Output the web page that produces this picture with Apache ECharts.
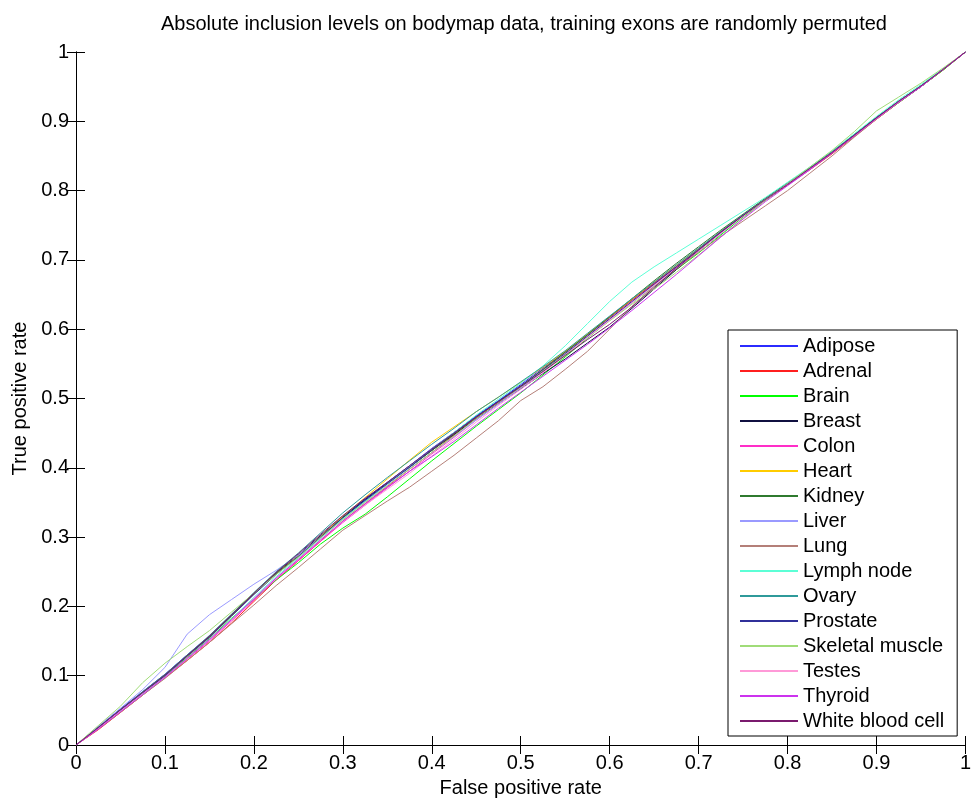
<!DOCTYPE html>
<html><head><meta charset="utf-8">
<script src="https://cdn.jsdelivr.net/npm/echarts@6/dist/echarts.min.js"></script>
<style>html,body{margin:0;padding:0;background:#fff}#c{width:974px;height:803px}</style>
</head><body><div id="c"></div>
<script>
const fpr = [0,0.025,0.05,0.075,0.1,0.125,0.15,0.175,0.2,0.225,0.25,0.275,0.3,0.325,0.35,0.375,0.4,0.425,0.45,0.475,0.5,0.525,0.55,0.575,0.6,0.625,0.65,0.675,0.7,0.725,0.75,0.775,0.8,0.825,0.85,0.875,0.9,0.925,0.95,0.975,1];

const adipose = [0,.026,.052,.077,.102,.13,.157,.188,.219,.248,.274,.302,.33,.355,.379,.403,.428,.451,.475,.497,.52,.544,.567,.592,.617,.642,.667,.691,.716,.741,.765,.787,.809,.832,.856,.88,.905,.929,.951,.975,1];
const adrenal = [0,.022,.047,.072,.097,.122,.148,.176,.207,.238,.266,.294,.323,.348,.373,.398,.422,.447,.472,.495,.518,.542,.567,.592,.617,.642,.666,.69,.714,.739,.763,.786,.808,.83,.853,.878,.903,.927,.95,.974,1];
const brain = [0,.024,.05,.074,.099,.126,.153,.183,.21,.238,.263,.29,.313,.333,.358,.384,.41,.435,.46,.484,.508,.534,.56,.587,.613,.638,.662,.686,.71,.736,.762,.786,.809,.831,.854,.879,.904,.927,.95,.974,1];
const breast = [0,.025,.051,.076,.101,.129,.157,.188,.219,.248,.274,.302,.329,.354,.378,.401,.425,.448,.471,.493,.514,.536,.557,.58,.603,.63,.658,.686,.713,.738,.763,.787,.809,.831,.855,.879,.904,.928,.95,.975,1];
const colon = [0,.023,.048,.073,.097,.124,.15,.179,.209,.239,.266,.294,.321,.346,.371,.395,.42,.444,.469,.492,.515,.539,.564,.589,.614,.639,.664,.689,.714,.739,.764,.787,.809,.831,.854,.879,.904,.928,.95,.975,1];
const heart = [0,.025,.05,.076,.101,.128,.156,.187,.218,.247,.273,.301,.33,.357,.384,.411,.437,.459,.481,.502,.523,.545,.568,.593,.618,.643,.668,.692,.716,.741,.765,.788,.81,.832,.856,.88,.905,.929,.951,.975,1];
const kidney = [0,.026,.051,.076,.101,.129,.156,.187,.218,.247,.272,.3,.328,.352,.377,.401,.425,.449,.473,.496,.518,.542,.567,.592,.618,.644,.67,.695,.719,.743,.766,.789,.811,.833,.856,.881,.906,.929,.951,.975,1];
const liver = [0,.027,.053,.08,.112,.16,.188,.21,.232,.252,.274,.3,.326,.351,.375,.399,.422,.445,.469,.492,.515,.539,.563,.588,.613,.638,.663,.688,.713,.738,.763,.787,.81,.832,.855,.88,.905,.929,.951,.975,1];
const lung = [0,.023,.047,.072,.096,.122,.148,.175,.202,.23,.256,.283,.31,.331,.352,.372,.395,.418,.443,.468,.497,.517,.542,.568,.6,.633,.662,.687,.711,.734,.756,.778,.8,.825,.85,.877,.903,.927,.95,.975,1];
const lymphNode = [0,.024,.049,.073,.098,.125,.152,.182,.213,.243,.27,.298,.326,.352,.377,.402,.427,.451,.476,.499,.522,.547,.576,.608,.64,.668,.69,.71,.73,.75,.77,.79,.812,.834,.857,.882,.907,.931,.953,.976,1];
const ovary = [0,.025,.051,.077,.102,.13,.158,.189,.22,.25,.277,.306,.335,.361,.386,.41,.434,.457,.481,.502,.524,.546,.569,.594,.619,.644,.668,.693,.717,.741,.765,.788,.81,.832,.856,.88,.905,.929,.951,.975,1];
const prostate = [0,.025,.05,.075,.1,.128,.155,.186,.217,.246,.272,.3,.328,.353,.377,.401,.426,.45,.474,.496,.518,.541,.565,.59,.615,.64,.665,.69,.715,.74,.764,.787,.809,.831,.855,.88,.905,.928,.95,.975,1];
const skeletalMuscle = [0,.028,.056,.09,.118,.142,.165,.192,.219,.246,.271,.299,.325,.35,.374,.398,.422,.446,.471,.494,.516,.54,.563,.588,.612,.636,.658,.682,.707,.733,.76,.786,.81,.834,.858,.885,.915,.935,.955,.977,1];
const testes = [0,.024,.049,.074,.098,.125,.152,.181,.211,.241,.268,.296,.322,.346,.369,.392,.417,.441,.466,.49,.513,.537,.562,.588,.613,.638,.663,.688,.713,.738,.763,.787,.809,.831,.855,.879,.904,.928,.95,.975,1];
const thyroid = [0,.023,.048,.073,.098,.125,.152,.181,.211,.241,.268,.296,.323,.348,.372,.395,.416,.438,.462,.486,.509,.532,.555,.578,.602,.627,.653,.679,.706,.733,.759,.784,.807,.83,.854,.879,.904,.928,.95,.975,1];
const whiteBloodCell = [0,.025,.051,.076,.101,.129,.157,.188,.219,.249,.276,.304,.331,.356,.379,.403,.427,.45,.473,.495,.517,.539,.562,.585,.607,.632,.66,.688,.714,.74,.764,.787,.809,.832,.855,.88,.905,.929,.951,.975,1];

const seriesNames = ['Adipose','Adrenal','Brain','Breast','Colon','Heart','Kidney','Liver','Lung','Lymph node','Ovary','Prostate','Skeletal muscle','Testes','Thyroid','White blood cell'];
const seriesValues = [adipose,adrenal,brain,breast,colon,heart,kidney,liver,lung,lymphNode,ovary,prostate,skeletalMuscle,testes,thyroid,whiteBloodCell];
const seriesColors = ['#2b2bff','#ff1f1f','#00ff00','#101040','#ff2ec8','#ffcc00','#2f7a2f','#9a9aff','#b47f78','#5cffd6','#2f9a9a','#30309a','#a0dc78','#ff9ad8','#cc33ee','#7a1a6e'];
const xTickLabels = ['0','0.1','0.2','0.3','0.4','0.5','0.6','0.7','0.8','0.9','1'];
const yTickLabels = ['0','0.1','0.2','0.3','0.4','0.5','0.6','0.7','0.8','0.9','1'];

const FONT = 'Liberation Sans, Arial, Helvetica, sans-serif';
const chart = echarts.init(document.getElementById('c'), null, {renderer:'canvas'});
const tickFmt = labels => v => labels[Math.round(v*10)] ?? '';
const baseAxis = {
  type:'value', min:0, max:1, interval:0.1,
  splitLine:{show:false},
  axisLine:{show:true, lineStyle:{color:'#000', width:1}},
  axisTick:{show:true, inside:true, length:9, lineStyle:{color:'#000', width:1}}
};
chart.setOption({
  animation:false,
  backgroundColor:'#fff',
  title:{
    text:'Absolute inclusion levels on bodymap data, training exons are randomly permuted',
    left:519, top:9, textAlign:'center',
    textStyle:{fontFamily:FONT, fontSize:20, fontWeight:'normal', color:'#000'}
  },
  grid:{left:76, right:5, top:52, bottom:57},
  legend:{
    orient:'vertical', left:728, top:330,
    data:seriesNames, icon:'rect', itemWidth:58, itemHeight:2, itemGap:5, itemTextGap:7,
    padding:[6,13,5,12],
    borderColor:'#000', borderWidth:1, backgroundColor:'#fff',
    textStyle:{fontFamily:FONT, fontSize:20, color:'#000', lineHeight:20},
    selectedMode:false
  },
  xAxis:[
    Object.assign({}, baseAxis, {
      position:'bottom',
      name:'False positive rate', nameLocation:'middle', nameGap:33,
      nameTextStyle:{fontFamily:FONT, fontSize:20, color:'#000'},
      axisLabel:{show:true, margin:8, fontFamily:FONT, fontSize:20, color:'#000', formatter:tickFmt(xTickLabels)}
    }),
    Object.assign({}, baseAxis, {position:'top', axisLabel:{show:false}})
  ],
  yAxis:[
    Object.assign({}, baseAxis, {
      position:'left',
      name:'True positive rate', nameLocation:'middle', nameGap:45,
      nameTextStyle:{fontFamily:FONT, fontSize:20, color:'#000'},
      axisLabel:{show:true, margin:7, fontFamily:FONT, fontSize:20, color:'#000', formatter:tickFmt(yTickLabels)}
    }),
    Object.assign({}, baseAxis, {position:'right', axisLabel:{show:false}})
  ],
  series: seriesNames.map((name,i)=>({
    name, type:'line', xAxisIndex:0, yAxisIndex:0,
    showSymbol:false, symbol:'none', color:seriesColors[i],
    lineStyle:{width:1, color:seriesColors[i]},
    data: fpr.map((x,j)=>[x, seriesValues[i][j]])
  }))
});
</script>
</body></html>
